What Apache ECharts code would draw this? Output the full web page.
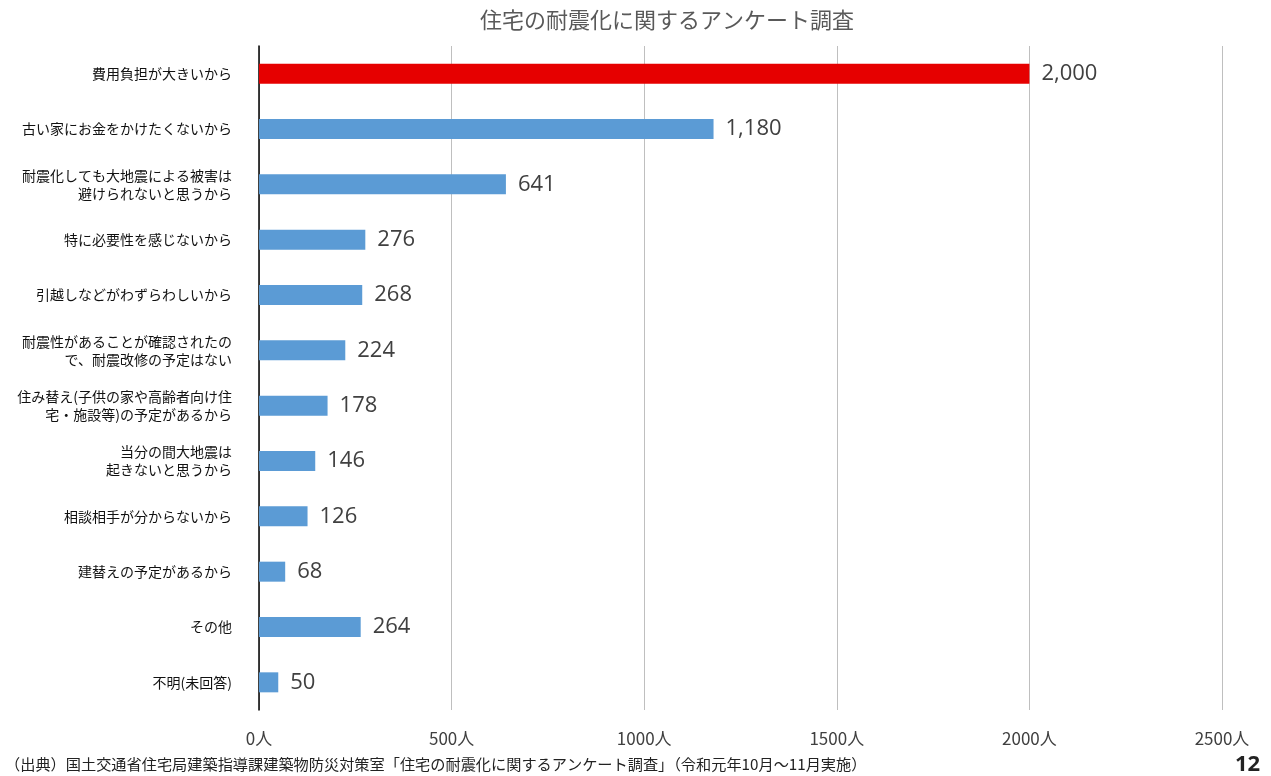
<!DOCTYPE html>
<html><head><meta charset="utf-8">
<script src="https://cdn.jsdelivr.net/npm/echarts@6/dist/echarts.min.js"></script>
<style>html,body{margin:0;padding:0;background:#fff}#c{width:1271px;height:776px}</style>
</head><body><div id="c"></div>
<script>
const categories = [
  '費用負担が大きいから',
  '古い家にお金をかけたくないから',
  '耐震化しても大地震による被害は\n避けられないと思うから',
  '特に必要性を感じないから',
  '引越しなどがわずらわしいから',
  '耐震性があることが確認されたの\nで、耐震改修の予定はない',
  '住み替え(子供の家や高齢者向け住\n宅・施設等)の予定があるから',
  '当分の間大地震は\n起きないと思うから',
  '相談相手が分からないから',
  '建替えの予定があるから',
  'その他',
  '不明(未回答)'
];
const values = [2000, 1180, 641, 276, 268, 224, 178, 146, 126, 68, 264, 50];
const highlightIndex = 0;
const axisTicks = [0, 500, 1000, 1500, 2000, 2500];

const font = '"Noto Sans CJK JP", sans-serif';
const chart = echarts.init(document.getElementById('c'));
chart.setOption({
  animation: false,
  title: [
    { text: '住宅の耐震化に関するアンケート調査', left: 475, top: 4,
      textStyle: { fontFamily: font, fontSize: 22, fontWeight: 'normal', color: '#595959' } },
    { text: '（出典）国土交通省住宅局建築指導課建築物防災対策室「住宅の耐震化に関するアンケート調査」（令和元年10月～11月実施）',
      left: 0, top: 752, textStyle: { fontFamily: font, fontSize: 15.2, fontWeight: 'normal', color: '#222' } },
    { text: '12', left: 1230, top: 749,
      textStyle: { fontFamily: '"Open Sans", sans-serif', fontSize: 22, fontWeight: 'bold', color: '#222' } }
  ],
  grid: { left: 259, right: 49, top: 46, bottom: 66 },
  xAxis: {
    type: 'value', min: 0, max: 2500, interval: 500,
    axisLine: { show: false }, axisTick: { show: false },
    splitLine: { lineStyle: { color: '#bfbfbf', width: 1 } },
    axisLabel: { margin: 20, color: '#404040', fontFamily: font, fontSize: 17,
      formatter: v => axisTicks.includes(v) ? v + '人' : '' }
  },
  yAxis: {
    type: 'category', data: categories, inverse: true,
    axisLine: { show: true, lineStyle: { color: '#000', width: 1.5 } },
    axisTick: { show: false },
    axisLabel: { margin: 27, color: '#111', fontFamily: font, fontSize: 14, lineHeight: 18, align: 'right' }
  },
  series: [{
    type: 'bar', barWidth: 20,
    data: values.map((v, i) => ({ value: v,
      itemStyle: { color: i === highlightIndex ? '#e60000' : '#5b9bd5' } })),
    label: { show: true, position: 'right', distance: 12, color: '#404040',
      fontFamily: '"Open Sans", sans-serif', fontSize: 22,
      formatter: p => p.value.toLocaleString('en-US') }
  }]
});
</script></body></html>
